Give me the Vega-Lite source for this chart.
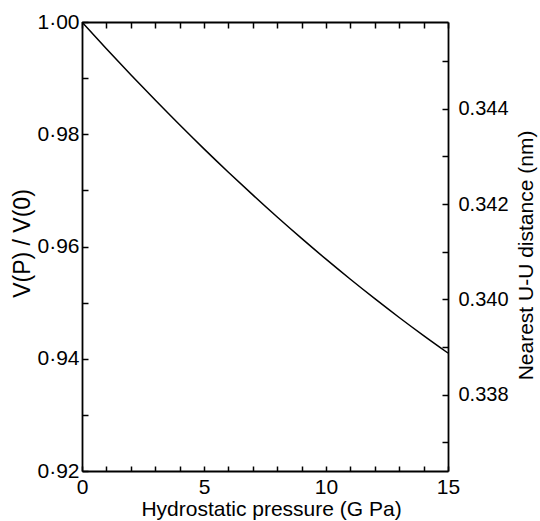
{
  "$schema": "https://vega.github.io/schema/vega-lite/v6.json",
  "width": 366,
  "height": 449,
  "autosize": {"type": "none"},
  "padding": {"left": 82, "top": 22, "right": 92, "bottom": 50},
  "background": "white",
  "config": {
    "view": {"stroke": null},
    "axis": {
      "grid": false,
      "domainColor": "black",
      "domainWidth": 1.8,
      "tickColor": "black",
      "tickWidth": 1.5,
      "labelColor": "black",
      "titleColor": "black",
      "labelFont": "Liberation Sans",
      "titleFont": "Liberation Sans",
      "titleFontWeight": "normal"
    }
  },
  "data": {
    "values": [
      {"P": 0, "v": 1.0},
      {"P": 1, "v": 0.99525},
      {"P": 2, "v": 0.99061},
      {"P": 3, "v": 0.98609},
      {"P": 4, "v": 0.98169},
      {"P": 5, "v": 0.9774},
      {"P": 6, "v": 0.97324},
      {"P": 7, "v": 0.96919},
      {"P": 8, "v": 0.96525},
      {"P": 9, "v": 0.96144},
      {"P": 10, "v": 0.95774},
      {"P": 11, "v": 0.95416},
      {"P": 12, "v": 0.9507},
      {"P": 13, "v": 0.94735},
      {"P": 14, "v": 0.94412},
      {"P": 15, "v": 0.94101}
    ]
  },
  "layer": [
    {
      "mark": {"type": "line", "color": "black", "strokeWidth": 1.5, "interpolate": "monotone"},
      "encoding": {
        "x": {
          "field": "P",
          "type": "quantitative",
          "scale": {"domain": [0, 15], "nice": false, "zero": false},
          "axis": {
            "orient": "bottom",
            "values": [0, 1, 2, 3, 4, 5, 6, 7, 8, 9, 10, 11, 12, 13, 14, 15],
            "labelExpr": "datum.value % 5 == 0 ? datum.value : ''",
            "tickSize": -5,
            "labelPadding": 10,
            "labelFontSize": 21,
            "labelFlush": false,
            "title": "Hydrostatic pressure (G Pa)",
            "titleFontSize": 21,
            "titleX": 189,
            "titleY": 38,
            "titleBaseline": "middle"
          }
        },
        "y": {
          "field": "v",
          "type": "quantitative",
          "scale": {"domain": [0.92, 1.0], "nice": false, "zero": false},
          "axis": {
            "orient": "left",
            "values": [0.92, 0.93, 0.94, 0.95, 0.96, 0.97, 0.98, 0.99, 1.0],
            "labelExpr": "round(datum.value * 100) % 2 == 0 ? replace(format(datum.value, '.2f'), '.', '·') : ''",
            "tickSize": -6,
            "labelPadding": 9,
            "labelFontSize": 21,
            "labelFlush": false,
            "title": "V(P) / V(0)",
            "titleFontSize": 23,
            "titleX": -60,
            "titleY": 221,
            "titleAngle": 270,
            "titleAlign": "center",
            "titleBaseline": "middle"
          }
        }
      }
    },
    {
      "mark": {"type": "rule", "opacity": 0},
      "encoding": {
        "x": {
          "datum": 0,
          "type": "quantitative",
          "axis": {
            "orient": "top",
            "values": [0, 1, 2, 3, 4, 5, 6, 7, 8, 9, 10, 11, 12, 13, 14, 15],
            "labels": false,
            "tickSize": -6,
            "title": null
          }
        },
        "y": {
          "datum": 0.34,
          "type": "quantitative",
          "scale": {"domain": [0.3364, 0.34582], "nice": false, "zero": false},
          "axis": {
            "orient": "right",
            "values": [0.337, 0.338, 0.339, 0.34, 0.341, 0.342, 0.343, 0.344, 0.345],
            "labelExpr": "round(datum.value * 1000) % 2 == 0 ? format(datum.value, '.3f') : ''",
            "tickSize": -6,
            "labelPadding": 16,
            "labelFontSize": 20,
            "labelFlush": false,
            "title": "Nearest U-U distance (nm)",
            "titleFontSize": 21,
            "titleX": 78,
            "titleY": 233,
            "titleAngle": 270,
            "titleAlign": "center",
            "titleBaseline": "middle"
          }
        }
      }
    }
  ],
  "resolve": {"scale": {"y": "independent"}, "axis": {"x": "independent", "y": "independent"}}
}
